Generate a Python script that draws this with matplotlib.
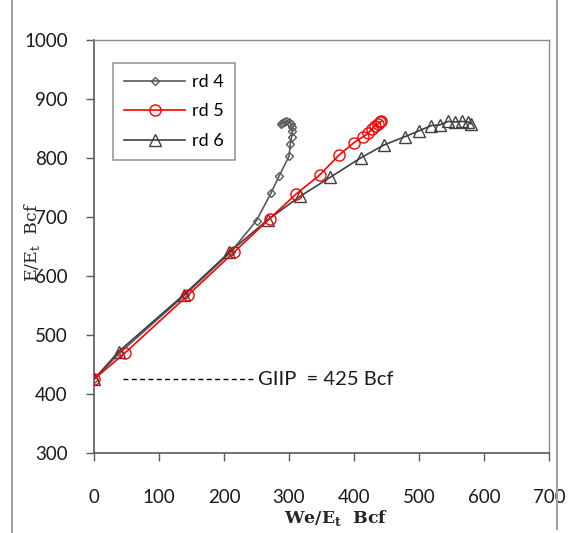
import matplotlib
matplotlib.use("Agg")
import matplotlib.pyplot as plt
from matplotlib.lines import Line2D

# rd 4 series
rd4_x = [0, 40, 140, 210, 250, 272, 285, 300, 302, 304, 305, 305, 303, 300, 296, 292, 289, 287]
rd4_y = [425, 470, 568, 640, 694, 740, 770, 803, 823, 836, 846, 853, 858, 861, 862, 861, 859, 857]
# rd 5 series
rd5_x = [0, 48, 145, 215, 270, 311, 347, 377, 400, 414, 422, 428, 433, 437, 440, 442]
rd5_y = [425, 470, 568, 640, 697, 739, 771, 805, 826, 836, 842, 850, 855, 858, 861, 862]
# rd 6 series
rd6_x = [0, 38, 138, 208, 267, 317, 363, 410, 446, 478, 500, 519, 532, 545, 555, 566, 576, 580]
rd6_y = [425, 472, 568, 640, 695, 735, 767, 800, 822, 836, 846, 855, 856, 862, 861, 862, 861, 858]

series_labels = ["rd 4", "rd 5", "rd 6"]
giip = 425
giip_x = [44, 244]
giip_text = "GIIP  = 425 Bcf"

xticks = [0, 100, 200, 300, 400, 500, 600, 700]
yticks = [300, 400, 500, 600, 700, 800, 900, 1000]

plt.rcParams['font.family'] = ['Lato', 'DejaVu Sans']

fig = plt.figure(figsize=(5.73, 5.33), dpi=100)
ax = fig.add_axes([94/573, 1-453/533, (549-94)/573, (453-40)/533])

gray = "#5a5a5a"
ax.plot(rd4_x, rd4_y, color=gray, lw=1.2, marker="D", ms=4.5, mfc="none",
        mec=gray, mew=1.0, label=series_labels[0], zorder=3)
ax.plot(rd5_x, rd5_y, color="#ff0000", lw=1.2, marker="o", ms=8, mfc="none",
        mec="#ff0000", mew=1.0, label=series_labels[1], zorder=4)
ax.plot(rd6_x, rd6_y, color="#404040", lw=1.2, marker="^", ms=8, mfc="none",
        mec="#404040", mew=1.0, label=series_labels[2], zorder=3)

ax.plot(giip_x, [giip, giip], color="black", lw=1.0, ls=(0, (3.5, 2.5)))
ax.text(253, giip, giip_text, fontsize=14.5, color="#1a1a1a", va="center", ha="left")

ax.set_xlim(0, 700)
ax.set_ylim(300, 1000)
ax.set_xticks(xticks)
ax.set_yticks(yticks)
ax.tick_params(axis="both", direction="out", length=6, width=1.0, color=gray,
               labelsize=13.5, labelcolor="#1a1a1a")
ax.tick_params(axis="x", pad=20)
ax.tick_params(axis="y", pad=13)
for s in ["left", "bottom"]:
    ax.spines[s].set_color(gray)
    ax.spines[s].set_linewidth(1.2)
for s in ["top", "right"]:
    ax.spines[s].set_color("#8c8c8c")
    ax.spines[s].set_linewidth(1.0)

leg = ax.legend(loc="upper left", bbox_to_anchor=((113-94)/455, 1-(63-40)/413),
                borderaxespad=0.0,
                fontsize=13, frameon=True, fancybox=False, edgecolor="#7f7f7f",
                handlelength=3.4, borderpad=0.6, labelspacing=0.75, handletextpad=0.4)
leg.get_frame().set_linewidth(1.2)

fig.text(336/573, 1-518/533, r"We/E$_\mathregular{t}$  Bcf", ha="center", va="center",
         fontsize=12.5, family="DejaVu Serif", fontweight="bold", color="#262626")
fig.text(32/573, 1-242/533, r"E/E$_\mathregular{t}$  Bcf", ha="center", va="center",
         rotation=90, fontsize=12.5, family="DejaVu Serif", color="#262626")

# outer chart border
fig.add_artist(Line2D([12/573, 12/573], [0, 1], transform=fig.transFigure,
                      color="#a0a0a0", lw=1.5))
fig.add_artist(Line2D([557/573, 557/573], [4/533, 1], transform=fig.transFigure,
                      color="#a0a0a0", lw=1.5))

fig.savefig("out.png", dpi=100)
